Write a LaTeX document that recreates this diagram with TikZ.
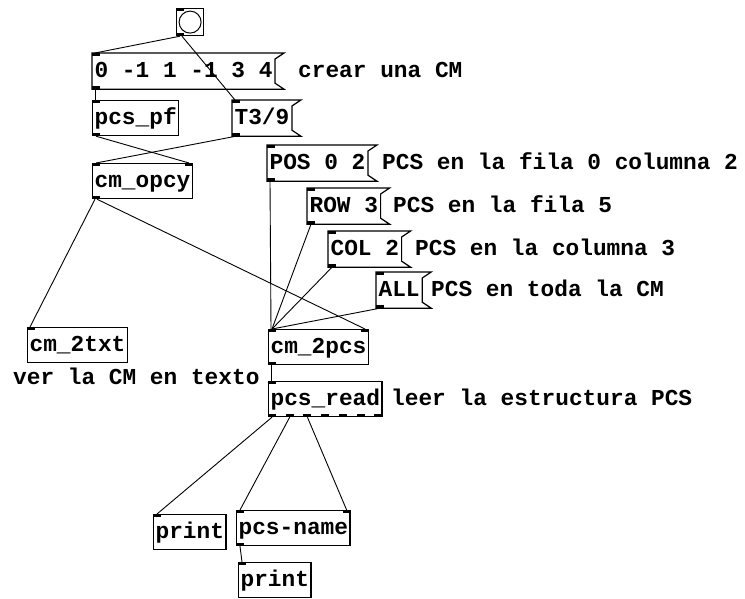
\documentclass[tikz,border=0pt]{standalone}
\usepackage{fontspec}
\setmonofont{Liberation Mono}
\begin{document}
\begin{tikzpicture}[x=1pt,y=-1pt,
  font=\ttfamily\bfseries\fontsize{22.8}{26}\selectfont,
  obj/.style={draw,line width=1.2pt,anchor=north west,inner xsep=2pt,inner ysep=0pt,
    minimum height=35pt,text height=16pt,text depth=4pt},
  msg/.style={obj,draw=none},
  note/.style={anchor=base west,inner sep=0pt},
  wire/.style={line width=0.9pt},
  port/.style={fill=black}]
  \useasboundingbox[fill=white] (0,0) rectangle (745,599);

  % bang and the matrix
  \node[draw,line width=1.2pt,minimum size=27pt,inner sep=0pt,anchor=north west] (bng) at (176,8) {};
  \draw[line width=1pt] (bng.center) circle (11);
  \node[msg] (crear) at (92,53) {0 -1 1 -1 3 4};
  \node[note] (crearc) at (298,0 |- crear.base) {crear una CM};
  \node[obj] (pcspf) at (92,100) {pcs\_pf};
  \node[msg] (tnine) at (232,100) {T3/9};
  \node[obj] (opcy) at (92,163) {cm\_opcy};
  \node[obj] (txt) at (27,327) {cm\_2txt};
  \node[note] (txtc) at (13,384) {ver la CM en texto};

  % messages for cm_2pcs
  \node[msg] (pos) at (267,145) {POS 0 2};
  \node[note] (posc) at (382,0 |- pos.base) {PCS en la fila 0 columna 2};
  \node[msg] (row) at (307,188) {ROW 3};
  \node[note] (rowc) at (393,0 |- row.base) {PCS en la fila 5};
  \node[msg] (col) at (328,231) {COL 2};
  \node[note] (colc) at (415,0 |- col.base) {PCS en la columna 3};
  \node[msg] (all) at (376,272) {ALL};
  \node[note] (allc) at (431,0 |- all.base) {PCS en toda la CM};

  \node[obj] (twopcs) at (268,329) {cm\_2pcs};
  \node[obj] (read) at (268,381) {pcs\_read};
  \node[note] (readc) at (391,0 |- read.base) {leer la estructura PCS};
  \node[obj] (printa) at (153,514) {print};
  \node[obj] (pcsname) at (236,510) {pcs-name};
  \node[obj] (printb) at (238,562) {print};

  % message flags
  \foreach \m in {crear,tnine,pos,row,col,all}
    \draw[line width=1.2pt] (\m.north west) -- ([xshift=9]\m.north east) -- ([yshift=-6]\m.north east)
      -- ([yshift=6]\m.south east) -- ([xshift=9]\m.south east) -- (\m.south west) -- cycle;

  % inlets and outlets
  \foreach \n in {bng,crear,pcspf,tnine,opcy,txt,pos,row,col,all,twopcs,read,printa,pcsname,printb}
    \fill[port] (\n.north west) rectangle ++(8,3);
  \foreach \n in {opcy,twopcs,pcsname}
    \fill[port] (\n.north east) rectangle ++(-8,3);
  \foreach \n in {bng,crear,pcspf,tnine,opcy,pos,row,col,all,twopcs,pcsname}
    \fill[port] (\n.south west) rectangle ++(8,-3);
  \foreach \i in {0,...,6}
    \fill[port] ([xshift=\i*17.7]read.south west) rectangle ++(8,-3);

  % connections
  \draw[wire] ([xshift=4]bng.south west) -- ([xshift=3]crear.north west);
  \draw[wire] ([xshift=6]bng.south west) -- ([xshift=3]tnine.north west);
  \draw[wire] ([xshift=3]crear.south west) -- ([xshift=3]pcspf.north west);
  \draw[wire] ([xshift=4]pcspf.south west) -- ([xshift=-4]opcy.north east);
  \draw[wire] ([xshift=4]tnine.south west) -- ([xshift=4]opcy.north west);
  \draw[wire] ([xshift=3]opcy.south west) -- ([xshift=3]txt.north west);
  \draw[wire] ([xshift=5]opcy.south west) -- ([xshift=-4]twopcs.north east);
  \draw[wire] ([xshift=3]pos.south west) -- ([xshift=3]twopcs.north west);
  \foreach \m in {row,col,all}
    \draw[wire] ([xshift=4]\m.south west) -- ([xshift=4]twopcs.north west);
  \draw[wire] ([xshift=3]twopcs.south west) -- ([xshift=3]read.north west);
  \draw[wire] ([xshift=4]read.south west) -- ([xshift=4]printa.north west);
  \draw[wire] ([xshift=21.7]read.south west) -- ([xshift=4]pcsname.north west);
  \draw[wire] ([xshift=39.4]read.south west) -- ([xshift=-4]pcsname.north east);
  \draw[wire] ([xshift=4]pcsname.south west) -- ([xshift=4]printb.north west);
\end{tikzpicture}
\end{document}
